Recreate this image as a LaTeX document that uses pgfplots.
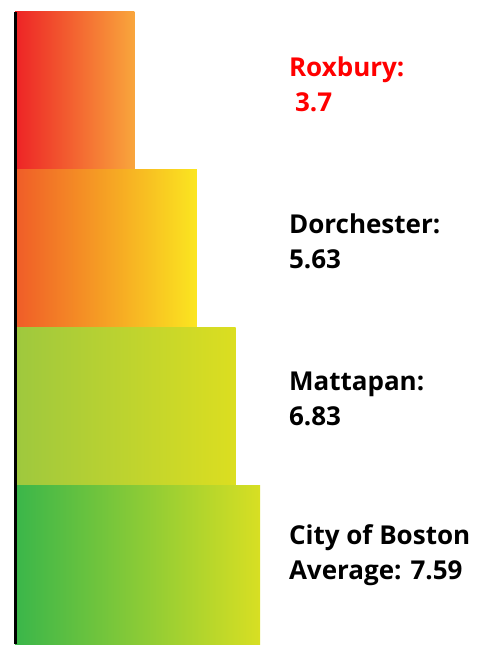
\documentclass[border=0pt]{standalone}
\usepackage{pgfplots}
\pgfplotsset{compat=1.18}
\usepackage{fontspec}
\setmainfont{Open Sans}
\definecolor{roxL}{RGB}{237,35,38}
\definecolor{roxR}{RGB}{249,166,60}
\definecolor{dorL}{RGB}{240,92,40}
\definecolor{dorR}{RGB}{251,230,32}
\definecolor{matL}{RGB}{158,200,62}
\definecolor{matR}{RGB}{220,222,32}
\definecolor{bosL}{RGB}{58,182,74}
\definecolor{bosR}{RGB}{216,223,35}
\definecolor{labred}{RGB}{255,0,0}
\begin{document}
\begin{tikzpicture}
\path[use as bounding box] (-15pt,-4pt) rectangle (466pt,644pt);
\begin{axis}[
  scale only axis, width=466pt, height=632pt,
  xmin=0, xmax=14.43, ymin=-0.5, ymax=3.5,
  axis x line=none, axis y line=left,
  y axis line style={line width=3pt, -, black},
  xtick=\empty, ytick=\empty,
  clip=false,
]
\addplot[xbar, bar width=1, bar shift=0, draw=none, left color=roxL, right color=roxR] coordinates {(3.7,3)};
\addplot[xbar, bar width=1, bar shift=0, draw=none, left color=dorL, right color=dorR] coordinates {(5.63,2)};
\addplot[xbar, bar width=1, bar shift=0, draw=none, left color=matL, right color=matR] coordinates {(6.83,1)};
\addplot[xbar, bar width=1, bar shift=0, draw=none, left color=bosL, right color=bosR] coordinates {(7.59,0)};
\draw[line width=3pt, black] (axis cs:0,-0.5) -- (axis cs:0,3.5);
\tikzset{lab/.style={anchor=west, align=left, font=\fontsize{26}{35}\selectfont\bfseries, inner sep=0pt}}
\node[lab, text=labred] at (axis cs:8.48,3.04) {Roxbury:\\\hspace{6pt}3.7};
\node[lab] at (axis cs:8.48,2.05) {Dorchester:\\5.63};
\node[lab] at (axis cs:8.48,1.05) {Mattapan:\\6.83};
\node[lab] at (axis cs:8.48,0.06) {City of Boston\\Average: 7.59};
\end{axis}
\end{tikzpicture}
\end{document}
